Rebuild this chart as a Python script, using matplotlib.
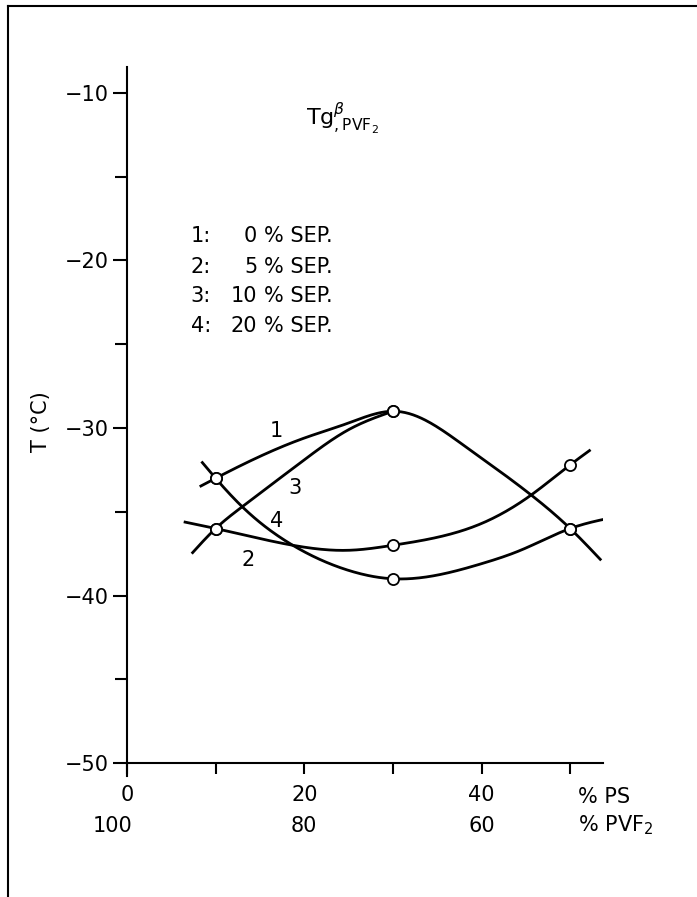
import numpy as np
import matplotlib
matplotlib.use("Agg")
import matplotlib.pyplot as plt
from matplotlib.lines import Line2D

plt.rcParams['font.family'] = ['DejaVu Sans']
plt.rcParams['mathtext.fontset'] = 'dejavusans'

# measured points (open circles), % PS
x_meas = [10, 30, 50]
t1_meas = [-33, -29, -36]      # 1: 0 % SEP
t2_meas = [-36, -37, -32.2]    # 2: 5 % SEP
t3_meas = [-36, -29]           # 3: 10 % SEP (only 10 and 30)
t4_meas = [-33, -39, -36]      # 4: 20 % SEP

# hand drawn curves (including end stubs)
c1_x = [8.2, 10, 20, 25, 30, 31.9, 37.9, 45.6, 50, 53.5]
c1_t = [-33.5, -33, -30.6, -29.7, -29, -29.15, -31.0, -34.0, -36.0, -37.9]
c2_x = [6.4, 10, 18.7, 25, 30, 36, 40, 45.6, 50, 52.3]
c2_t = [-35.6, -36, -37.0, -37.3, -37, -36.4, -35.7, -34.0, -32.2, -31.3]
c3_x = [7.3, 10, 13, 20, 25, 30]
c3_t = [-37.5, -36, -34.7, -31.9, -30.1, -29]
c4_x = [8.4, 10, 13, 18.7, 25, 30, 40, 44.4, 50, 55.2]
c4_t = [-32.0, -33, -34.7, -37.0, -38.5, -39, -38.1, -37.3, -36, -35.3]

curve_labels = ['1', '2', '3', '4']
label_pos = [(16.9, -30.2), (13.7, -37.9), (19.0, -33.6), (16.9, -35.55)]

yticks = [-10, -20, -30, -40, -50]
ytick_labels = ['\u221210', '\u221220', '\u221230', '\u221240', '\u221250']
xticks = [0, 10, 20, 30, 40, 50]
ps_labels = ['0', '', '20', '', '40', '']
pvf_labels = ['100', '80', '60']
pvf_pos = [-1.6, 20, 40]

legend_num = ['1:', '2:', '3:', '4:']
legend_sep = ['0', '5', '10', '20']


def smooth(xs, ys, n=300):
    # natural cubic spline through the read points
    xs = np.asarray(xs, float)
    ys = np.asarray(ys, float)
    h = np.diff(xs)
    m = len(xs)
    A = np.zeros((m, m))
    b = np.zeros(m)
    A[0, 0] = A[-1, -1] = 1
    for i in range(1, m - 1):
        A[i, i - 1] = h[i - 1]
        A[i, i] = 2 * (h[i - 1] + h[i])
        A[i, i + 1] = h[i]
        b[i] = 3 * ((ys[i + 1] - ys[i]) / h[i] - (ys[i] - ys[i - 1]) / h[i - 1])
    c = np.linalg.solve(A, b)
    xx = np.linspace(xs[0], xs[-1], n)
    idx = np.clip(np.searchsorted(xs, xx) - 1, 0, m - 2)
    dx = xx - xs[idx]
    bc = (ys[1:] - ys[:-1]) / h - h * (2 * c[:-1] + c[1:]) / 3
    d = (c[1:] - c[:-1]) / (3 * h)
    yy = ys[idx] + bc[idx] * dx + c[idx] * dx ** 2 + d[idx] * dx ** 3
    return xx, yy


fig = plt.figure(figsize=(6.97, 8.97), dpi=100)
ax = fig.add_axes([0.1822, 0.1344, 0.6829, 0.7909])

for cx, ct in [(c1_x, c1_t), (c2_x, c2_t), (c3_x, c3_t), (c4_x, c4_t)]:
    xx, yy = smooth(cx, ct)
    ax.plot(xx, yy, color='black', lw=2.0, solid_capstyle='butt', zorder=2)

mk = dict(marker='o', ms=8, mfc='white', mec='black', mew=1.3, ls='none', zorder=3)
ax.plot(x_meas, t1_meas, **mk)
ax.plot(x_meas, t2_meas, **mk)
ax.plot(x_meas[:2], t3_meas, **mk)
ax.plot(x_meas, t4_meas, **mk)

for lab, (lx, ly) in zip(curve_labels, label_pos):
    ax.text(lx, ly, lab, fontsize=15, ha='center', va='center')

ax.set_xlim(0, 53.7)
ax.set_ylim(-50.8, -8.45)
ax.spines['top'].set_visible(False)
ax.spines['right'].set_visible(False)
ax.spines['bottom'].set_position(('data', -50))
ax.spines['left'].set_linewidth(1.5)
ax.spines['bottom'].set_linewidth(1.5)

ax.set_yticks(yticks, labels=ytick_labels)
ax.set_yticks([-15, -25, -35, -45], minor=True)
ax.tick_params(axis='y', which='major', direction='out', length=10, width=1.5, pad=3, labelsize=15)
ax.tick_params(axis='y', which='minor', direction='out', length=9, width=1.5)
ax.set_xticks(xticks, labels=ps_labels)
ax.tick_params(axis='x', direction='out', length=8, width=1.5, pad=8, labelsize=15)

for lab, px in zip(pvf_labels, pvf_pos):
    ax.text(px, -54.1, lab, fontsize=15, ha='center', va='baseline')
ax.text(50.9, -52.4, '% PS', fontsize=15, ha='left', va='baseline')
ax.text(50.9, -54.1, '% PVF$_2$', fontsize=15, ha='left', va='baseline')

ax.set_ylabel('T (\u00b0C)', fontsize=15, labelpad=10)

ax.text(20.2, -11.97, r'$\mathrm{Tg}^{\beta}_{,\mathrm{PVF}_2}$', fontsize=16,
        ha='left', va='baseline')

leg_y = [-18.9, -20.75, -22.5, -24.25]
for num, sep, ly in zip(legend_num, legend_sep, leg_y):
    ax.text(7.2, ly, num, fontsize=15, ha='left', va='baseline')
    ax.text(14.7, ly, sep, fontsize=15, ha='right', va='baseline')
    ax.text(15.5, ly, '% SEP.', fontsize=15, ha='left', va='baseline')

# page frame (top and left edge)
fig.add_artist(Line2D([8 / 697, 1], [1 - 6 / 897, 1 - 6 / 897], color='black', lw=1.5))
fig.add_artist(Line2D([8 / 697, 8 / 697], [0, 1 - 6 / 897], color='black', lw=1.5))

fig.savefig('out.png', dpi=100)
